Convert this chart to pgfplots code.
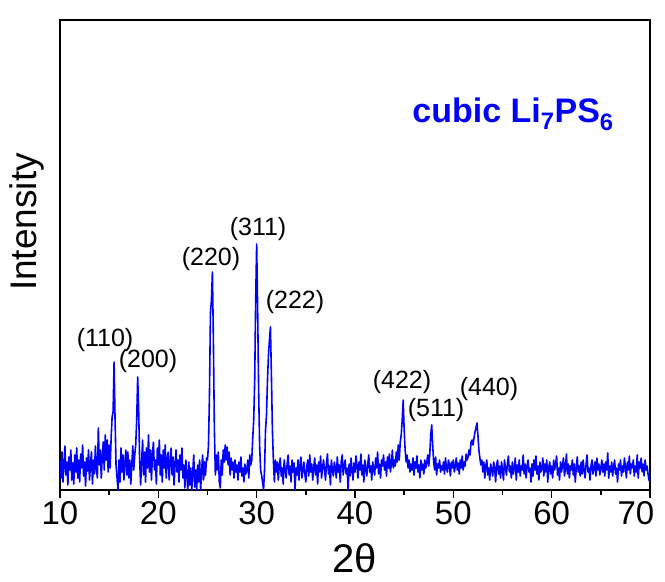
\documentclass[border=0pt]{standalone}
\usepackage{pgfplots}
\pgfplotsset{compat=1.18}
\usepackage{fontspec}
\setmainfont{Liberation Sans}
\begin{document}
\begin{tikzpicture}
\begin{axis}[name=ax, scale only axis, width=590pt, height=470pt,
 xmin=10, xmax=70, ymin=0, ymax=470,
 xtick={10,20,...,70}, minor x tick num=1, ytick=\empty,
 xticklabels={10,20,30,40,50,60,{70\hspace*{28pt}}},
 xtick pos=lower, tick align=outside,
 major tick length=8pt, minor tick length=5pt,
 every tick/.style={black, line width=1.5pt},
 axis line style={line width=1.5pt},
 ticklabel style={font=\fontsize{33}{38}\selectfont},
 xlabel={2θ}, ylabel={Intensity},
 xlabel style={font=\fontsize{40}{44}\selectfont, at={(axis description cs:0.5,-0.145)}, anchor=center},
 ylabel style={font=\fontsize{37}{42}\selectfont, at={(axis description cs:-0.056,0.57)}, anchor=center},
]
\addplot[blue, line width=1.6pt, line join=round] coordinates {
(10.0,30)(10.1,12)(10.2,38)(10.3,8)(10.4,25)(10.5,44)(10.6,15)(10.7,28)(10.8,5)(10.9,33)
(11.0,20)(11.1,40)(11.2,10)(11.3,27)(11.4,6)(11.5,35)(11.6,18)(11.7,42)(11.8,12)(11.9,30)
(12.0,8)(12.1,36)(12.2,22)(12.3,45)(12.4,14)(12.5,28)(12.6,4)(12.7,32)(12.8,19)(12.9,40)
(13.0,10)(13.1,26)(13.2,38)(13.3,6)(13.4,30)(13.5,16)(13.6,44)(13.7,22)(13.8,12)(13.9,62)
(14.0,25)(14.1,40)(14.2,12)(14.3,35)(14.4,48)(14.5,20)(14.6,55)(14.7,30)(14.8,50)(14.9,18)
(15.0,45)(15.1,22)(15.2,52)(15.3,73)(15.4,78)(15.5,128)(15.6,70)(15.7,25)(15.8,12)(15.9,0)
(16.0,30)(16.1,8)(16.2,42)(16.3,18)(16.4,35)(16.5,10)(16.6,28)(16.7,40)(16.8,15)(16.9,38)
(17.0,12)(17.1,30)(17.2,6)(17.3,25)(17.4,44)(17.5,20)(17.6,35)(17.7,45)(17.8,70)(17.9,113)
(18.0,80)(18.1,30)(18.2,5)(18.3,28)(18.4,50)(18.5,15)(18.6,38)(18.7,8)(18.8,42)(18.9,22)
(19.0,55)(19.1,18)(19.2,40)(19.3,10)(19.4,35)(19.5,48)(19.6,20)(19.7,30)(19.8,6)(19.9,42)
(20.0,25)(20.1,50)(20.2,15)(20.3,35)(20.4,8)(20.5,40)(20.6,22)(20.7,45)(20.8,12)(20.9,30)
(21.0,38)(21.1,10)(21.2,28)(21.3,42)(21.4,15)(21.5,33)(21.6,5)(21.7,25)(21.8,40)(21.9,18)
(22.0,30)(22.1,8)(22.2,35)(22.3,20)(22.4,42)(22.5,12)(22.6,25)(22.7,2)(22.8,30)(22.9,15)
(23.0,0)(23.1,28)(23.2,5)(23.3,22)(23.4,0)(23.5,18)(23.6,35)(23.7,3)(23.8,20)(23.9,0)
(24.0,25)(24.1,8)(24.2,30)(24.3,0)(24.4,18)(24.5,35)(24.6,10)(24.7,28)(24.8,15)(24.9,32)
(25.0,30)(25.1,45)(25.2,95)(25.3,177)(25.4,190)(25.5,218)(25.6,150)(25.7,60)(25.8,15)(25.9,35)
(26.0,20)(26.1,38)(26.2,8)(26.3,2)(26.4,30)(26.5,15)(26.6,40)(26.7,28)(26.8,45)(26.9,30)
(27.0,43)(27.1,25)(27.2,38)(27.3,15)(27.4,32)(27.5,20)(27.6,28)(27.7,12)(27.8,30)(27.9,18)
(28.0,25)(28.1,10)(28.2,28)(28.3,18)(28.4,33)(28.5,14)(28.6,22)(28.7,8)(28.8,26)(28.9,16)
(29.0,20)(29.1,30)(29.2,12)(29.3,35)(29.4,25)(29.5,30)(29.6,52)(29.7,70)(29.8,110)(29.9,190)
(30.0,246)(30.1,180)(30.2,100)(30.3,45)(30.4,20)(30.5,15)(30.6,8)(30.7,0)(30.8,20)(30.9,60)
(31.0,75)(31.1,110)(31.2,135)(31.3,150)(31.4,163)(31.5,115)(31.6,60)(31.7,30)(31.8,8)(31.9,30)
(32.0,18)(32.1,28)(32.2,10)(32.3,25)(32.4,32)(32.5,14)(32.6,22)(32.7,6)(32.8,30)(32.9,20)
(33.0,12)(33.1,26)(33.2,35)(33.3,15)(33.4,24)(33.5,8)(33.6,30)(33.7,18)(33.8,27)(33.9,0)
(34.0,22)(34.1,15)(34.2,30)(34.3,10)(34.4,25)(34.5,33)(34.6,12)(34.7,20)(34.8,28)(34.9,16)
(35.0,8)(35.1,24)(35.2,30)(35.3,14)(35.4,35)(35.5,18)(35.6,26)(35.7,10)(35.8,22)(35.9,32)
(36.0,15)(36.1,25)(36.2,6)(36.3,28)(36.4,18)(36.5,34)(36.6,12)(36.7,22)(36.8,30)(36.9,20)
(37.0,10)(37.1,27)(37.2,36)(37.3,16)(37.4,24)(37.5,5)(37.6,30)(37.7,20)(37.8,14)(37.9,28)
(38.0,22)(38.1,12)(38.2,33)(38.3,18)(38.4,25)(38.5,8)(38.6,28)(38.7,35)(38.8,15)(38.9,24)
(39.0,30)(39.1,16)(39.2,22)(39.3,0)(39.4,26)(39.5,14)(39.6,32)(39.7,20)(39.8,10)(39.9,27)
(40.0,18)(40.1,34)(40.2,24)(40.3,12)(40.4,28)(40.5,20)(40.6,36)(40.7,15)(40.8,25)(40.9,8)
(41.0,30)(41.1,22)(41.2,14)(41.3,26)(41.4,35)(41.5,18)(41.6,24)(41.7,10)(41.8,28)(41.9,20)
(42.0,15)(42.1,32)(42.2,22)(42.3,38)(42.4,16)(42.5,26)(42.6,12)(42.7,30)(42.8,24)(42.9,35)
(43.0,20)(43.1,28)(43.2,14)(43.3,33)(43.4,22)(43.5,36)(43.6,18)(43.7,26)(43.8,40)(43.9,22)
(44.0,30)(44.1,24)(44.2,38)(44.3,28)(44.4,45)(44.5,30)(44.6,48)(44.7,55)(44.8,70)(44.9,90)
(45.0,60)(45.1,40)(45.2,28)(45.3,35)(45.4,22)(45.5,30)(45.6,18)(45.7,26)(45.8,20)(45.9,32)
(46.0,15)(46.1,28)(46.2,22)(46.3,34)(46.4,18)(46.5,25)(46.6,12)(46.7,30)(46.8,20)(46.9,26)
(47.0,16)(47.1,30)(47.2,22)(47.3,28)(47.4,35)(47.5,24)(47.6,35)(47.7,55)(47.8,65)(47.9,45)
(48.0,28)(48.1,20)(48.2,33)(48.3,15)(48.4,26)(48.5,22)(48.6,30)(48.7,18)(48.8,24)(48.9,20)
(49.0,28)(49.1,16)(49.2,32)(49.3,22)(49.4,18)(49.5,30)(49.6,25)(49.7,14)(49.8,28)(49.9,22)
(50.0,30)(50.1,18)(50.2,24)(50.3,32)(50.4,20)(50.5,27)(50.6,16)(50.7,30)(50.8,22)(50.9,34)
(51.0,20)(51.1,28)(51.2,24)(51.3,36)(51.4,30)(51.5,33)(51.6,40)(51.7,35)(51.8,48)(51.9,50)
(52.0,45)(52.1,52)(52.2,58)(52.3,62)(52.4,67)(52.5,55)(52.6,40)(52.7,32)(52.8,25)(52.9,30)
(53.0,18)(53.1,28)(53.2,12)(53.3,24)(53.4,30)(53.5,15)(53.6,22)(53.7,10)(53.8,26)(53.9,20)
(54.0,14)(54.1,28)(54.2,22)(54.3,8)(54.4,25)(54.5,30)(54.6,16)(54.7,24)(54.8,12)(54.9,28)
(55.0,20)(55.1,10)(55.2,30)(55.3,22)(55.4,15)(55.5,26)(55.6,34)(55.7,18)(55.8,24)(55.9,12)
(56.0,28)(56.1,16)(56.2,22)(56.3,32)(56.4,10)(56.5,25)(56.6,18)(56.7,30)(56.8,14)(56.9,24)
(57.0,20)(57.1,35)(57.2,16)(57.3,26)(57.4,12)(57.5,24)(57.6,30)(57.7,18)(57.8,22)(57.9,8)
(58.0,26)(58.1,14)(58.2,30)(58.3,20)(58.4,34)(58.5,16)(58.6,24)(58.7,10)(58.8,28)(58.9,18)
(59.0,22)(59.1,32)(59.2,14)(59.3,26)(59.4,18)(59.5,30)(59.6,8)(59.7,22)(59.8,28)(59.9,16)
(60.0,24)(60.1,12)(60.2,30)(60.3,20)(60.4,26)(60.5,34)(60.6,15)(60.7,22)(60.8,10)(60.9,28)
(61.0,18)(61.1,25)(61.2,32)(61.3,14)(61.4,22)(61.5,36)(61.6,16)(61.7,26)(61.8,12)(61.9,24)
(62.0,20)(62.1,30)(62.2,15)(62.3,26)(62.4,8)(62.5,22)(62.6,33)(62.7,18)(62.8,24)(62.9,14)
(63.0,28)(63.1,16)(63.2,30)(63.3,20)(63.4,12)(63.5,26)(63.6,35)(63.7,18)(63.8,22)(63.9,10)
(64.0,24)(64.1,30)(64.2,16)(64.3,22)(64.4,28)(64.5,14)(64.6,32)(64.7,20)(64.8,26)(64.9,15)
(65.0,22)(65.1,30)(65.2,18)(65.3,26)(65.4,14)(65.5,28)(65.6,20)(65.7,37)(65.8,12)(65.9,24)
(66.0,18)(66.1,28)(66.2,14)(66.3,24)(66.4,30)(66.5,16)(66.6,22)(66.7,8)(66.8,26)(66.9,20)
(67.0,30)(67.1,14)(67.2,24)(67.3,18)(67.4,32)(67.5,22)(67.6,12)(67.7,28)(67.8,20)(67.9,34)
(68.0,16)(68.1,26)(68.2,22)(68.3,30)(68.4,14)(68.5,24)(68.6,18)(68.7,35)(68.8,12)(68.9,28)
(69.0,22)(69.1,32)(69.2,18)(69.3,26)(69.4,14)(69.5,30)(69.6,20)(69.7,24)(69.8,16)(69.9,10)
(70.0,8)
};
\node[font=\fontsize{25}{29}\selectfont] at (axis cs:14.58,150) {(110)};
\node[font=\fontsize{25}{29}\selectfont] at (axis cs:18.95,129) {(200)};
\node[font=\fontsize{25}{29}\selectfont] at (axis cs:25.36,231) {(220)};
\node[font=\fontsize{25}{29}\selectfont] at (axis cs:30.14,261) {(311)};
\node[font=\fontsize{25}{29}\selectfont] at (axis cs:33.9,188) {(222)};
\node[font=\fontsize{25}{29}\selectfont] at (axis cs:44.78,108) {(422)};
\node[font=\fontsize{25}{29}\selectfont] at (axis cs:48.24,80) {(511)};
\node[font=\fontsize{25}{29}\selectfont] at (axis cs:53.63,101) {(440)};
\node[text=blue, font=\bfseries\fontsize{34}{38}\selectfont] at (axis cs:56.07,376) {cubic Li\textsubscript{7}PS\textsubscript{6}};
\end{axis}
\pgfresetboundingbox
\path ([xshift=-60pt,yshift=-91pt]ax.south west) rectangle ([xshift=15pt,yshift=20pt]ax.north east);
\end{tikzpicture}
\end{document}
